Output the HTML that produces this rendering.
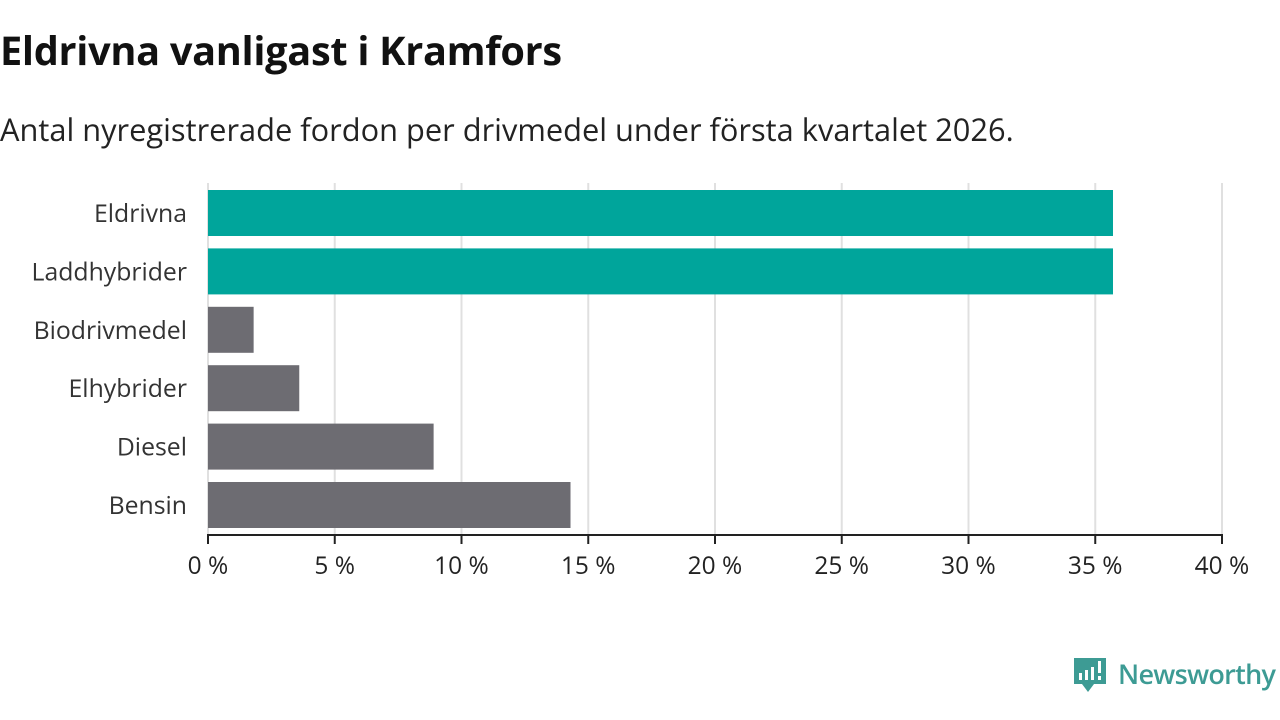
<!DOCTYPE html>
<html><head><meta charset="utf-8"><style>
body{margin:0;width:1280px;height:720px;background:#fff;font-family:"Open Sans","DejaVu Sans","Liberation Sans",sans-serif;overflow:hidden;position:relative}
h1{position:absolute;left:0;top:26px;margin:0;font-size:39.7px;line-height:48px;font-weight:bold;color:#111;letter-spacing:-0.3px}
.sub{position:absolute;left:0;top:111px;font-size:30.8px;line-height:38px;color:#222}
svg{position:absolute;left:0;top:0}
</style></head><body>
<h1>Eldrivna vanligast i Kramfors</h1>
<div class="sub">Antal nyregistrerade fordon per drivmedel under första kvartalet 2026.</div>
<svg id="c" width="1280" height="720"></svg>
<script>
const categories=["Eldrivna","Laddhybrider","Biodrivmedel","Elhybrider","Diesel","Bensin"];
const values=[35.7,35.7,1.8,3.6,8.9,14.3];
const highlight=[true,true,false,false,false,false];
const ticks=[0,5,10,15,20,25,30,35,40];
const ns="http://www.w3.org/2000/svg",svg=document.getElementById('c');
const x=v=>208+v*(1222-208)/40;
const y=i=>190+i*58.4;
function mk(t,a,p){const e=document.createElementNS(ns,t);for(const k in a)e.setAttribute(k,a[k]);(p||svg).appendChild(e);return e;}
ticks.forEach(t=>{
 const g=mk('line',{x1:x(t),x2:x(t),y1:183,y2:535,stroke:'#e0e0e0','stroke-width':2});
 
 
 const tk=mk('line',{x1:x(t),x2:x(t),y1:535,y2:544,stroke:'#222','stroke-width':2});
 
 
 const l=mk('text',{x:x(t),y:574,'text-anchor':'middle','font-size':24.5,fill:'#222'});
 l.textContent=t+' %';
 
 
});
categories.forEach((c,i)=>{
 const r=mk('rect',{x:x(0),y:y(i),width:x(values[i])-x(0),height:46,fill:highlight[i]?'#00a59b':'#6d6c72'});
 
 
 const l=mk('text',{x:187,y:y(i)+32,'text-anchor':'end','font-size':24.8,fill:'#333'});
 l.textContent=c;
 
 
});
const ax=mk('line',{x1:207,x2:1223,y1:535,y2:535,stroke:'#222','stroke-width':2});


</script>
<svg width="1280" height="720" style="pointer-events:none">
<path d="M1074 658h32v26h-12l-6 8l-6-8h-8z" fill="#3d9b94"/>
<rect x="1079" y="673" width="3" height="7" fill="#fff"/><rect x="1085" y="670" width="3" height="10" fill="#fff"/><rect x="1091" y="667" width="3" height="13" fill="#fff"/><rect x="1098" y="661" width="3" height="12" fill="#fff"/><rect x="1098" y="676" width="3" height="4" fill="#fff"/>
<text x="1118" y="684" font-size="27" font-family="'Open Sans','DejaVu Sans','Liberation Sans',sans-serif" fill="#3d9b94" font-weight="600" textLength="158">Newsworthy</text>
</svg>
</body></html>
